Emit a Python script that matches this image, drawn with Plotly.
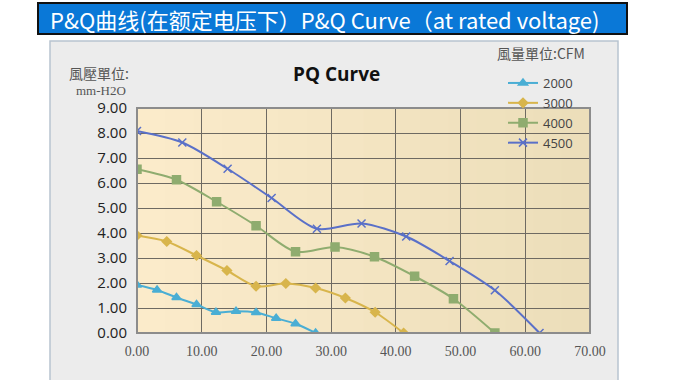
import plotly.graph_objects as go

# ---- data ----
series_names = ["2000", "3000", "4000", "4500"]
x_2000 = [0.0, 3.1, 6.1, 9.2, 12.2, 15.3, 18.4, 21.5, 24.5, 27.6]
y_2000 = [1.92, 1.72, 1.42, 1.14, 0.83, 0.87, 0.82, 0.59, 0.37, 0.0]
x_3000 = [0.0, 4.6, 9.2, 13.9, 18.4, 23.0, 27.6, 32.2, 36.8, 41.2]
y_3000 = [3.90, 3.66, 3.10, 2.50, 1.87, 1.98, 1.80, 1.40, 0.83, 0.0]
x_4000 = [0.0, 6.1, 12.3, 18.4, 24.5, 30.6, 36.7, 42.9, 48.9, 55.3]
y_4000 = [6.55, 6.13, 5.25, 4.29, 3.25, 3.44, 3.05, 2.27, 1.37, 0.0]
x_4500 = [0.0, 7.0, 14.0, 20.8, 27.8, 34.7, 41.6, 48.3, 55.3, 62.2]
y_4500 = [8.08, 7.62, 6.57, 5.40, 4.17, 4.38, 3.86, 2.88, 1.71, 0.0]
x_ticks = [0, 10, 20, 30, 40, 50, 60, 70]
y_ticks = [0, 1, 2, 3, 4, 5, 6, 7, 8, 9]

colors = {"2000": "#4aaed4", "3000": "#d8b54c", "4000": "#8fac6f", "4500": "#5a70c8"}
symbols = {"2000": "triangle-up", "3000": "diamond", "4000": "square", "4500": "x-thin-open"}
sizes = {"2000": 8, "3000": 7, "4000": 8, "4500": 8}
data = {"2000": (x_2000, y_2000), "3000": (x_3000, y_3000),
        "4000": (x_4000, y_4000), "4500": (x_4500, y_4500)}

W, H = 680, 380
L, R, T, B = 137, 590, 108, 333

def px(x):
    return (x - L) / (R - L)

def py(y):
    return (B - y) / (B - T)

fig = go.Figure()
for name in series_names:
    xs, ys = data[name]
    c = colors[name]
    fig.add_trace(go.Scatter(
        x=xs, y=ys, name=name, mode="lines+markers",
        line=dict(color=c, width=2, shape="spline", smoothing=0.8),
        marker=dict(symbol=symbols[name], size=sizes[name], color=c,
                    line=dict(color=c, width=1.5)),
    ))

shapes = [
    # gray panel
    dict(type="rect", xref="paper", yref="paper", x0=px(50), x1=px(618), y0=py(395), y1=py(41),
         fillcolor="#ececec", line=dict(color="#b8c4d0", width=1.5), layer="below"),
    # title bar
    dict(type="rect", xref="paper", yref="paper", x0=px(38), x1=px(627), y0=py(34), y1=py(3),
         fillcolor="#0a78d7", line=dict(color="#111111", width=2), layer="below"),
]

# beige plot background with a soft left-to-right gradient
n_bands = 16
c0 = (251, 235, 202)
c1 = (236, 222, 186)
for i in range(n_bands):
    t = i / (n_bands - 1)
    col = tuple(round(a + (b - a) * t) for a, b in zip(c0, c1))
    shapes.append(dict(type="rect", xref="paper", yref="paper",
                       x0=i / n_bands, x1=(i + 1) / n_bands + 0.002, y0=0, y1=1,
                       fillcolor="rgb(%d,%d,%d)" % col, line=dict(width=0), layer="below"))

# plot frame
shapes.append(dict(type="rect", xref="paper", yref="paper", x0=0, x1=1, y0=0, y1=1,
                   line=dict(color="#8c8c8c", width=2), layer="above"))

annotations = [
    dict(text="P&Q曲线(在额定电压下）P&Q Curve（at rated voltage)", xref="paper", yref="paper",
         x=px(324), y=py(19), xanchor="center", yanchor="middle", showarrow=False,
         font=dict(family="Noto Sans CJK SC", size=22, color="white")),
    dict(text="<b>PQ Curve</b>", xref="paper", yref="paper", x=px(336), y=py(74),
         xanchor="center", yanchor="middle", showarrow=False,
         font=dict(family="Open Sans", size=19, color="#111111")),
    dict(text="風壓單位:", xref="paper", yref="paper", x=px(131), y=py(73),
         xanchor="right", yanchor="middle", showarrow=False,
         font=dict(family="Noto Sans CJK TC", size=14, color="#555555")),
    dict(text="mm-H2O", xref="paper", yref="paper", x=px(128), y=py(91),
         xanchor="right", yanchor="middle", showarrow=False,
         font=dict(family="Liberation Serif", size=13, color="#555555")),
    dict(text="風量單位:CFM", xref="paper", yref="paper", x=px(587), y=py(53),
         xanchor="right", yanchor="middle", showarrow=False,
         font=dict(family="Noto Sans CJK TC", size=14, color="#555555")),
]

fig.update_layout(
    width=W, height=H,
    margin=dict(l=L, r=W - R, t=T, b=H - B, pad=0, autoexpand=False),
    paper_bgcolor="white",
    plot_bgcolor="#f7e8c6",
    showlegend=True,
    legend=dict(xref="container", yref="container", x=503 / W, y=1 - 68 / H,
                xanchor="left", yanchor="top",
                bgcolor="rgba(0,0,0,0)", borderwidth=0, itemwidth=30,
                tracegroupgap=0,
                font=dict(family="Open Sans", size=13, color="#444444")),
    shapes=shapes,
    annotations=annotations,
)
fig.update_xaxes(range=[0, 70], tickvals=x_ticks, ticktext=[f"{v:.2f}" for v in x_ticks],
                 showgrid=True, gridcolor="#6e6a62", gridwidth=1, zeroline=False,
                 showline=False, ticks="", ticklabelstandoff=8,
                 tickfont=dict(family="Liberation Serif", size=14, color="#555555"))
fig.update_yaxes(range=[0, 9], tickvals=y_ticks, ticktext=[f"{v:.2f}" for v in y_ticks],
                 showgrid=True, gridcolor="#6e6a62", gridwidth=1, zeroline=False,
                 showline=False, ticks="", ticklabelstandoff=9,
                 tickfont=dict(family="Open Sans", size=15, color="#222222"))

fig.write_html("out.html", config={"displayModeBar": False},
               post_script="document.body.style.margin='0';")
